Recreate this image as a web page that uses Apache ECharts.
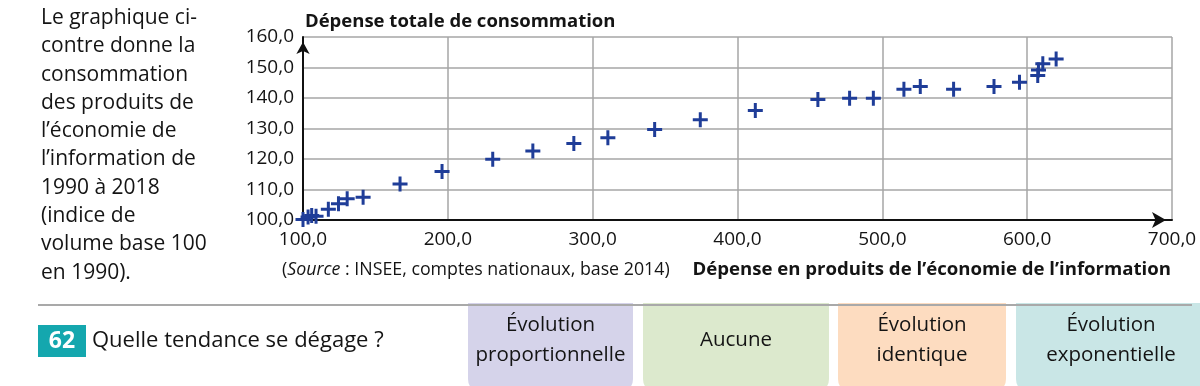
<!DOCTYPE html>
<html>
<head>
<meta charset="utf-8">
<script src="https://cdn.jsdelivr.net/npm/echarts@6/dist/echarts.min.js"></script>
<style>
html,body{margin:0;padding:0;background:#fff;}
#chart{width:1200px;height:386px;}
</style>
</head>
<body>
<div id="chart"></div>
<script>
// Data: consumption of information-economy products (x) vs total consumption (y), 1990–2018, index base 100
const infoSpending = [100, 103.5, 106, 109, 117.5, 124.5, 130.5, 141.5, 167, 196, 231, 258.7, 287, 310.5, 342.8, 374.3, 412.3, 455.5, 477.4, 493.8, 514.9, 526.2, 549.2, 577.1, 594.7, 607.3, 607.8, 610.8, 620];
const totalSpending = [100.2, 101, 101.5, 101.2, 103.5, 105.3, 107, 107.5, 111.8, 115.9, 119.9, 122.6, 125.1, 127, 129.7, 132.9, 135.9, 139.5, 139.9, 139.9, 142.9, 143.8, 142.9, 143.8, 145.2, 147.4, 149.2, 151.2, 152.8];
const xTicks = [100, 200, 300, 400, 500, 600, 700];
const yTicks = [100, 110, 120, 130, 140, 150, 160];

const yTitle = 'Dépense totale de consommation';
const xTitle = 'Dépense en produits de l’économie de l’information';
const introLines = ['Le graphique ci-', 'contre donne la', 'consommation', 'des produits de', 'l’économie de', 'l’information de', '1990 à 2018', '(indice de', 'volume base 100', 'en 1990).'];
const questionNum = '62';
const questionText = 'Quelle tendance se dégage ?';
const answers = [['Évolution', 'proportionnelle'], ['Aucune'], ['Évolution', 'identique'], ['Évolution', 'exponentielle']];

const FONT = '"Open Sans", "Noto Sans", sans-serif';
const fmt = v => v.toFixed(1).replace('.', ',');
const points = infoSpending.map((x, i) => [x, totalSpending[i]]);

const answerBoxes = [
  {x: 468, w: 165, fill: '#d5d3ea'},
  {x: 643, w: 186, fill: '#dce9cd'},
  {x: 838, w: 168, fill: '#fddcc0'},
  {x: 1016, w: 190, fill: '#c9e6e6'}
];

const TXT = '#141414';
const graphic = [];
// intro paragraph
introLines.forEach((t, i) => {
  graphic.push({type: 'text', x: 41, y: 18 + i * 28.3,
    style: {text: t, font: '21px ' + FONT, fill: TXT, verticalAlign: 'middle'}});
});
// y axis title
graphic.push({type: 'text', x: 305, y: 22,
  style: {text: yTitle, font: 'bold 18.5px ' + FONT, fill: TXT, verticalAlign: 'middle'}});
// source + x axis title
graphic.push({type: 'text', x: 282, y: 270,
  style: {rich: {n: {font: '17.8px ' + FONT, fill: TXT}, i: {font: 'italic 17.8px ' + FONT, fill: TXT}},
    text: '{n|(}{i|Source}{n| : INSEE, comptes nationaux, base 2014)}', verticalAlign: 'middle'}});
graphic.push({type: 'text', x: 1171, y: 270,
  style: {text: xTitle, font: 'bold 18.6px ' + FONT, fill: TXT, align: 'right', verticalAlign: 'middle'}});
// answer boxes
answerBoxes.forEach((b, i) => {
  graphic.push({type: 'rect', shape: {x: b.x, y: 303, width: b.w, height: 90, r: [0, 0, 14, 14]},
    style: {fill: b.fill}});
  const lines = answers[i];
  graphic.push({type: 'text', x: b.x + b.w / 2, y: 340,
    style: {text: lines.join('\n'), font: '20.5px ' + FONT, fill: TXT, align: 'center', verticalAlign: 'middle', lineHeight: 30}});
});
// divider line
graphic.push({type: 'line', shape: {x1: 38, y1: 305, x2: 1192, y2: 305}, style: {stroke: '#a9a9a9', lineWidth: 2}, z: 10});
// question number box
graphic.push({type: 'rect', shape: {x: 38, y: 325, width: 48, height: 32}, style: {fill: '#14a7ae'}});
graphic.push({type: 'text', x: 62, y: 341, style: {text: questionNum, font: 'bold 23px ' + FONT, fill: '#fff', align: 'center', verticalAlign: 'middle'}});
graphic.push({type: 'text', x: 92, y: 341, style: {text: questionText, font: '22px ' + FONT, fill: TXT, verticalAlign: 'middle'}});

const chart = echarts.init(document.getElementById('chart'));
chart.setOption({
  animation: false,
  grid: {left: 303, right: 28, top: 37, bottom: 166, containLabel: false},
  xAxis: {
    type: 'value', min: xTicks[0], max: xTicks[xTicks.length - 1], interval: 100,
    axisLine: {show: true, onZero: false, lineStyle: {color: '#111', width: 2}, symbol: ['none', 'arrow'], symbolSize: [12, 14], symbolOffset: [0, -6]},
    axisTick: {show: false},
    axisLabel: {formatter: fmt, color: TXT, fontSize: 19, fontFamily: FONT, margin: 10, showMaxLabel: true},
    splitLine: {show: true, lineStyle: {color: '#a6a6a6', width: 1.5}}
  },
  yAxis: {
    type: 'value', min: yTicks[0], max: yTicks[yTicks.length - 1], interval: 10,
    axisLine: {show: true, onZero: false, lineStyle: {color: '#111', width: 2}, symbol: ['none', 'arrow'], symbolSize: [10, 12], symbolOffset: [0, -5]},
    axisTick: {show: false},
    axisLabel: {formatter: fmt, color: TXT, fontSize: 19, fontFamily: FONT, margin: 9},
    splitLine: {show: true, lineStyle: {color: '#a6a6a6', width: 1.5}}
  },
  series: [{
    type: 'scatter', data: points,
    symbol: 'path://M5.6,0h2.8v5.6h5.6v2.8h-5.6v5.6h-2.8v-5.6h-5.6v-2.8h5.6z',
    symbolSize: 15,
    itemStyle: {color: '#1f3d98', opacity: 1}
  }],
  graphic: graphic
});
</script>
</body>
</html>
